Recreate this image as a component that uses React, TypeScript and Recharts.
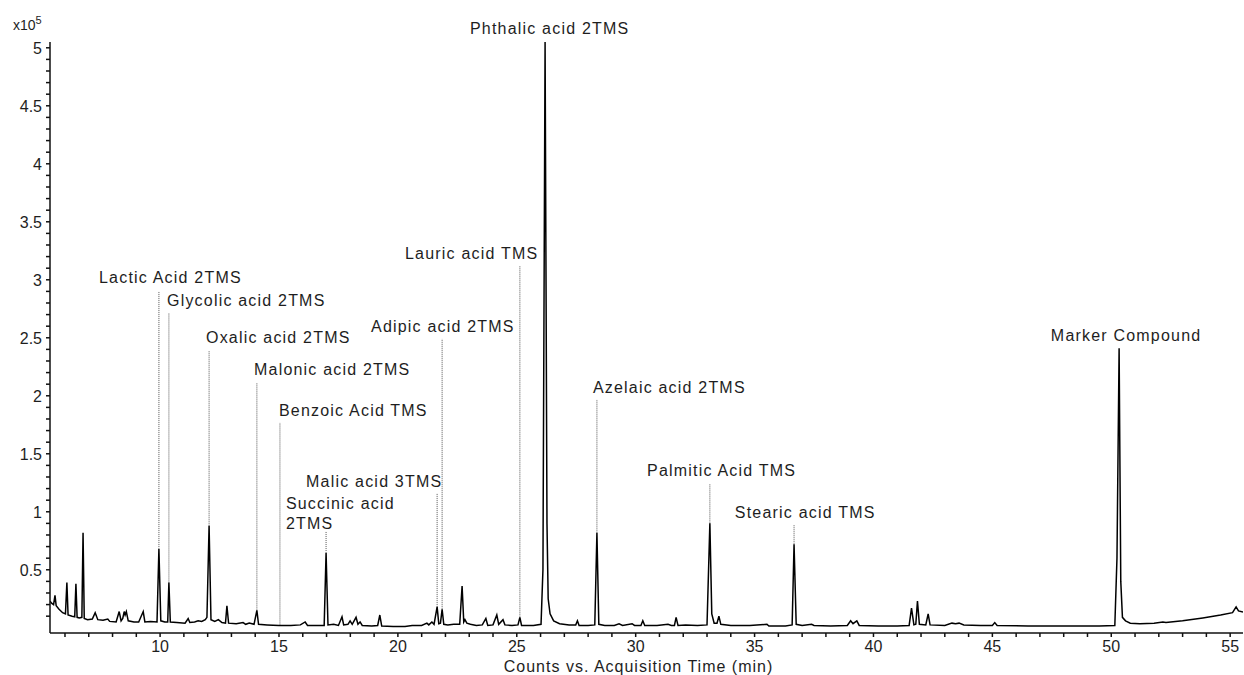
import {
  ComposedChart,
  Line,
  ReferenceDot,
  ReferenceLine,
  XAxis,
  YAxis,
} from 'recharts'

// Total ion chromatogram, abundance in units of 1e5 counts, time in minutes
const chromatogram: Array<[number, number]> = [
  [5.37, 0.23], [5.45, 0.21], [5.52, 0.2], [5.58, 0.28], [5.63, 0.19], [5.75, 0.16],
  [5.9, 0.13], [6.02, 0.12], [6.08, 0.39], [6.13, 0.11], [6.3, 0.1], [6.41, 0.095],
  [6.46, 0.38], [6.51, 0.09], [6.6, 0.085], [6.71, 0.09], [6.76, 0.82], [6.81, 0.08],
  [6.95, 0.07], [7.15, 0.075], [7.27, 0.13], [7.38, 0.07], [7.6, 0.065], [7.8, 0.075],
  [7.88, 0.055], [8.15, 0.05], [8.28, 0.14], [8.36, 0.06], [8.43, 0.08], [8.49, 0.14],
  [8.53, 0.11], [8.58, 0.14], [8.66, 0.06], [8.9, 0.05], [9.1, 0.05], [9.29, 0.14],
  [9.36, 0.05], [9.6, 0.055], [9.87, 0.05], [9.95, 0.68], [10.03, 0.06], [10.2, 0.05],
  [10.32, 0.05], [10.37, 0.39], [10.43, 0.05], [10.7, 0.045], [11.05, 0.04], [11.18, 0.08],
  [11.25, 0.045], [11.45, 0.05], [11.6, 0.06], [11.75, 0.055], [11.9, 0.07], [11.97, 0.09],
  [12.06, 0.88], [12.14, 0.07], [12.3, 0.055], [12.45, 0.07], [12.6, 0.045], [12.75, 0.04],
  [12.81, 0.19], [12.88, 0.04], [13.2, 0.035], [13.49, 0.045], [13.6, 0.03], [13.75, 0.04],
  [13.95, 0.03], [14.07, 0.15], [14.14, 0.03], [14.5, 0.025], [15.0, 0.02], [15.5, 0.02],
  [15.9, 0.025], [16.1, 0.05], [16.2, 0.02], [16.6, 0.02], [16.9, 0.02], [16.98, 0.645],
  [17.06, 0.025], [17.3, 0.03], [17.5, 0.02], [17.65, 0.095], [17.72, 0.025], [17.9, 0.03],
  [17.99, 0.06], [18.08, 0.03], [18.24, 0.09], [18.32, 0.03], [18.41, 0.05], [18.5, 0.02],
  [18.9, 0.015], [19.15, 0.02], [19.24, 0.11], [19.32, 0.015], [19.8, 0.01], [20.3, 0.012],
  [20.6, 0.02], [21.0, 0.02], [21.22, 0.04], [21.3, 0.025], [21.43, 0.05], [21.52, 0.03],
  [21.65, 0.18], [21.72, 0.035], [21.79, 0.04], [21.86, 0.16], [21.93, 0.03], [22.1, 0.025],
  [22.35, 0.03], [22.6, 0.03], [22.7, 0.36], [22.77, 0.05], [22.82, 0.07], [22.9, 0.04],
  [23.05, 0.03], [23.3, 0.02], [23.55, 0.025], [23.7, 0.08], [23.78, 0.02], [24.0, 0.025],
  [24.16, 0.11], [24.24, 0.03], [24.42, 0.07], [24.5, 0.025], [24.8, 0.02], [25.05, 0.025],
  [25.13, 0.09], [25.2, 0.02], [25.7, 0.02], [26.02, 0.03], [26.1, 0.5], [26.19, 5.05],
  [26.27, 0.9], [26.32, 0.25], [26.4, 0.12], [26.55, 0.06], [26.8, 0.035], [27.2, 0.025],
  [27.48, 0.025], [27.55, 0.06], [27.62, 0.02], [28.0, 0.02], [28.28, 0.025], [28.37, 0.82],
  [28.45, 0.03], [28.7, 0.02], [29.1, 0.02], [29.3, 0.035], [29.45, 0.02], [29.85, 0.035],
  [29.95, 0.02], [30.22, 0.02], [30.3, 0.06], [30.38, 0.02], [30.9, 0.02], [31.36, 0.03],
  [31.5, 0.02], [31.63, 0.02], [31.7, 0.09], [31.78, 0.02], [32.1, 0.025], [32.6, 0.02],
  [33.0, 0.025], [33.12, 0.9], [33.2, 0.12], [33.3, 0.04], [33.42, 0.04], [33.5, 0.1],
  [33.58, 0.03], [34.0, 0.02], [34.8, 0.02], [35.52, 0.03], [35.6, 0.015], [36.3, 0.015],
  [36.58, 0.025], [36.66, 0.72], [36.75, 0.03], [37.0, 0.02], [37.4, 0.03], [37.5, 0.02],
  [38.2, 0.015], [38.9, 0.02], [39.04, 0.06], [39.14, 0.035], [39.3, 0.06], [39.4, 0.02],
  [40.2, 0.015], [41.0, 0.015], [41.5, 0.02], [41.6, 0.17], [41.7, 0.025], [41.78, 0.03],
  [41.85, 0.23], [41.93, 0.03], [42.2, 0.025], [42.3, 0.12], [42.38, 0.025], [43.0, 0.02],
  [43.3, 0.04], [43.45, 0.035], [43.6, 0.04], [43.8, 0.025], [44.5, 0.02], [45.0, 0.02],
  [45.1, 0.045], [45.2, 0.02], [46.5, 0.015], [48.0, 0.015], [49.5, 0.015], [50.15, 0.02],
  [50.24, 0.6], [50.33, 2.41], [50.4, 0.4], [50.47, 0.09], [50.6, 0.06], [50.8, 0.04],
  [51.2, 0.035], [51.8, 0.04], [52.17, 0.05], [52.3, 0.045], [53.0, 0.06], [53.85, 0.085],
  [54.6, 0.11], [55.1, 0.13], [55.25, 0.18], [55.35, 0.145], [55.54, 0.135],
]

// Identified compounds: retention time, apex height, where the name sits and
// how high its dotted leader reaches (all in minutes / 1e5 counts)
type PeakLabel = {
  lines: string[]
  rt: number
  apex: number
  textAt: [number, number]
  leaderTop?: number
}

const peakLabels: PeakLabel[] = [
  { lines: ['Lactic Acid 2TMS'], rt: 9.95, apex: 0.68, textAt: [7.43, 2.972], leaderTop: 2.895 },
  { lines: ['Glycolic acid 2TMS'], rt: 10.37, apex: 0.39, textAt: [10.29, 2.774], leaderTop: 2.714 },
  { lines: ['Oxalic acid 2TMS'], rt: 12.06, apex: 0.88, textAt: [11.93, 2.455], leaderTop: 2.386 },
  { lines: ['Malonic acid 2TMS'], rt: 14.07, apex: 0.15, textAt: [13.95, 2.179], leaderTop: 2.11 },
  { lines: ['Benzoic Acid TMS'], rt: 15.04, apex: 0.02, textAt: [15.0, 1.826], leaderTop: 1.766 },
  { lines: ['Succinic acid', '2TMS'], rt: 16.98, apex: 0.645, textAt: [15.29, 1.024], leaderTop: 0.826 },
  { lines: ['Malic acid 3TMS'], rt: 21.65, apex: 0.18, textAt: [16.14, 1.214], leaderTop: 1.162 },
  { lines: ['Adipic acid 2TMS'], rt: 21.86, apex: 0.16, textAt: [18.87, 2.55], leaderTop: 2.49 },
  { lines: ['Lauric acid TMS'], rt: 25.13, apex: 0.09, textAt: [20.3, 3.179], leaderTop: 3.119 },
  { lines: ['Phthalic acid 2TMS'], rt: 26.19, apex: 5.05, textAt: [23.03, 5.119] },
  { lines: ['Azelaic acid 2TMS'], rt: 28.37, apex: 0.82, textAt: [28.2, 2.024], leaderTop: 1.964 },
  { lines: ['Palmitic Acid TMS'], rt: 33.12, apex: 0.9, textAt: [30.48, 1.309], leaderTop: 1.24 },
  { lines: ['Stearic acid TMS'], rt: 36.66, apex: 0.72, textAt: [34.17, 0.946], leaderTop: 0.886 },
  { lines: ['Marker Compound'], rt: 50.33, apex: 2.41, textAt: [47.46, 2.472] },
]

const timeDomain: [number, number] = [5.37, 55.54]
const countDomain: [number, number] = [-0.045, 5.05]

// one tick per minute, numbered every five
const minuteTicks = Array.from({ length: 50 }, (_, i) => i + 6)
const labeledMinutes = [10, 15, 20, 25, 30, 35, 40, 45, 50, 55]

// one tick per 0.1 x 1e5, numbered every 0.5
const countTicks = Array.from({ length: 50 }, (_, i) => (i + 1) / 10)
const labeledCounts = ['0.5', '1', '1.5', '2', '2.5', '3', '3.5', '4', '4.5', '5']

const FONT = "'Liberation Sans', Arial, Helvetica, sans-serif"
const INK = '#1e1e1e'

const traceData = chromatogram.map(([t, v]) => ({ t, v }))

function MinuteTick(props: any) {
  const { x, y, payload } = props
  if (!labeledMinutes.includes(payload.value)) return null
  return (
    <text x={x} y={y} dy="0.71em" textAnchor="middle" fontSize={16} fontFamily={FONT} fill={INK}>
      {payload.value}
    </text>
  )
}

function CountTick(props: any) {
  const { x, y, payload } = props
  const text = String(Number(payload.value.toFixed(1)))
  if (!labeledCounts.includes(text)) return null
  return (
    <text x={x} y={y} dy="0.36em" textAnchor="end" fontSize={16} fontFamily={FONT} fill={INK}>
      {text}
    </text>
  )
}

function AxisTitle(props: any) {
  const vb = props.viewBox ?? { x: 0, y: 0, width: 0, height: 0 }
  return (
    <text
      x={vb.x + vb.width / 2 - 8}
      y={vb.y + vb.height - 3}
      textAnchor="middle"
      fontSize={16}
      letterSpacing={1}
      fontFamily={FONT}
      fill={INK}
    >
      Counts vs. Acquisition Time (min)
    </text>
  )
}

function ScaleNote(props: any) {
  const vb = props.viewBox ?? { x: 0, y: 0 }
  return (
    <text x={vb.x + 13} y={vb.y - 12.5} fontSize={14} fontFamily={FONT} fill={INK}>
      x10
      <tspan fontSize={11} dy={-6}>5</tspan>
    </text>
  )
}

function CompoundName({ cx, cy, lines }: { cx?: number; cy?: number; lines: string[] }) {
  if (cx == null || cy == null) return null
  return (
    <text x={cx} y={cy} fontSize={16} letterSpacing={1.2} fontFamily={FONT} fill={INK}>
      {lines.map((line, i) => (
        <tspan key={line} x={cx} dy={i === 0 ? 0 : 20}>
          {line}
        </tspan>
      ))}
    </text>
  )
}

export default function App() {
  return (
    <div style={{ position: 'absolute', left: 0, top: 0, background: '#fff' }}>
      <ComposedChart
        width={1244}
        height={675}
        data={traceData}
        margin={{ top: 42, right: 1, bottom: 0, left: 0 }}
      >
        <XAxis
          dataKey="t"
          type="number"
          domain={timeDomain}
          allowDataOverflow
          ticks={minuteTicks}
          interval={0}
          height={42}
          tickSize={4}
          tickMargin={4}
          tick={<MinuteTick />}
          axisLine={{ stroke: '#111', strokeWidth: 1.5 }}
          tickLine={{ stroke: '#111', strokeWidth: 1.5 }}
          label={{ content: <AxisTitle /> }}
        />
        <YAxis
          type="number"
          domain={countDomain}
          allowDataOverflow
          ticks={countTicks}
          interval={0}
          width={50}
          tickSize={4}
          tickMargin={4}
          tick={<CountTick />}
          axisLine={{ stroke: '#111', strokeWidth: 1.5 }}
          tickLine={{ stroke: '#111', strokeWidth: 1.5 }}
          label={{ content: <ScaleNote /> }}
        />
        {peakLabels
          .filter(p => p.leaderTop != null)
          .map(p => (
            <ReferenceLine
              key={`leader-${p.lines[0]}`}
              segment={[
                { x: p.rt, y: p.apex },
                { x: p.rt, y: p.leaderTop as number },
              ]}
              stroke="#555"
              strokeWidth={1}
              strokeDasharray="1 1"
              ifOverflow="visible"
            />
          ))}
        <Line
          type="linear"
          dataKey="v"
          stroke="#000"
          strokeWidth={1.5}
          dot={false}
          activeDot={false}
          isAnimationActive={false}
        />
        {peakLabels.map(p => (
          <ReferenceDot
            key={`name-${p.lines[0]}`}
            x={p.textAt[0]}
            y={p.textAt[1]}
            r={0}
            ifOverflow="visible"
            shape={(dot: any) => <CompoundName cx={dot.cx} cy={dot.cy} lines={p.lines} />}
          />
        ))}
      </ComposedChart>
    </div>
  )
}
